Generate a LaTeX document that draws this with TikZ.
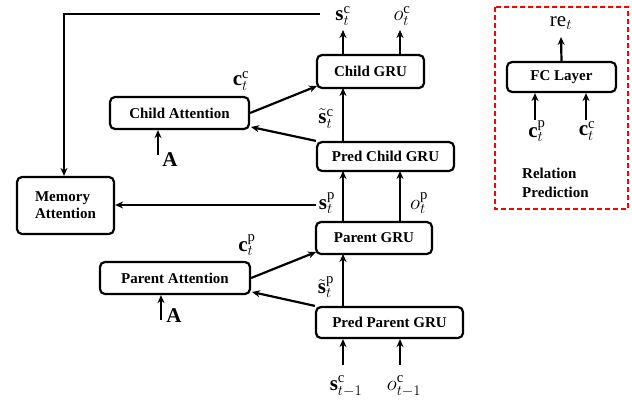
\RequirePackage{fix-cm}
\documentclass[tikz,border=0pt]{standalone}
\usepackage{fontspec}
\setmainfont{Liberation Serif}
\usetikzlibrary{arrows.meta}
\begin{document}
\begin{tikzpicture}[x=1pt,y=-1pt,
  box/.style={draw,line width=2.2pt,rounded corners=5pt,inner sep=0pt,
    font=\bfseries\fontsize{15}{17}\selectfont,align=center},
  lab/.style={inner sep=0pt,font=\fontsize{21}{24}\selectfont},
  arr/.style={line width=2.2pt,-{Stealth[length=8pt,width=7pt]}},
  ln/.style={line width=2.2pt}]
\useasboundingbox (0,0) rectangle (632,402);
% boxes
\node[box,minimum width=107pt,minimum height=33pt] (cgru) at (370.5,71.5) {Child GRU};
\node[box,minimum width=137pt,minimum height=29pt] (pcgru) at (385.5,156.5) {Pred Child GRU};
\node[box,minimum width=116pt,minimum height=32pt] (pgru) at (374,238) {Parent GRU};
\node[box,minimum width=147pt,minimum height=31pt] (ppgru) at (389.5,322.5) {Pred Parent GRU};
\node[box,minimum width=139pt,minimum height=32pt] (catt) at (179.5,113) {Child Attention};
\node[box,minimum width=150pt,minimum height=32pt] (patt) at (175,278) {Parent Attention};
\node[box,minimum width=97pt,minimum height=57pt,align=left] (matt) at (65.5,205.5) {Memory\\Attention};
\node[box,minimum width=109pt,minimum height=30pt] (fc) at (561.5,77) {FC Layer};
\draw[red,line width=2.2pt,dash pattern=on 5pt off 3pt] (495,7) rectangle (628,209);
\node[inner sep=0pt,font=\bfseries\fontsize{15}{19}\selectfont,align=left,anchor=west] (rp) at (522,182.5) {Relation\\Prediction};
% labels
\node[lab] (sc) at (343,16) {$\mathbf{s}_t^{\mathrm{c}}$};
\node[lab] (oc) at (402,16) {$o_t^{\mathrm{c}}$};
\node[lab] (re) at (561,23) {$\mathrm{re}_t$};
\node[lab] (fcp) at (537,131) {$\mathbf{c}_t^{\mathrm{p}}$};
\node[lab] (fcc) at (587,131) {$\mathbf{c}_t^{\mathrm{c}}$};
\node[lab] (ccl) at (241,81) {$\mathbf{c}_t^{\mathrm{c}}$};
\node[lab] (cpl) at (247,245) {$\mathbf{c}_t^{\mathrm{p}}$};
\node[lab] (tsc) at (326,119) {$\tilde{\mathbf{s}}_t^{\mathrm{c}}$};
\node[lab] (tsp) at (326,287) {$\tilde{\mathbf{s}}_t^{\mathrm{p}}$};
\node[lab] (sp) at (327,203) {$\mathbf{s}_t^{\mathrm{p}}$};
\node[lab] (op) at (419,203) {$o_t^{\mathrm{p}}$};
\node[lab] (a1) at (170,160) {$\mathbf{A}$};
\node[lab] (a2) at (174,316) {$\mathbf{A}$};
\node[lab] (sc1) at (346,386) {$\mathbf{s}_{t-1}^{\mathrm{c}}$};
\node[lab] (oc1) at (404,386) {$o_{t-1}^{\mathrm{c}}$};
% coordinates
\coordinate (topr) at (320,14);
\coordinate (topl) at (64,14);
\coordinate (a1s) at (158,155);
\coordinate (a2s) at (161,320);
\coordinate (b1) at (343,365);
\coordinate (b2) at (400,365);
\coordinate (fc1) at (535,120);
\coordinate (fc2) at (586,120);
% arrows
\draw[arr] (343,55) -- (343,30);
\draw[arr] (400,55) -- (400,30);
\draw[arr] (343,142) -- (343,88);
\draw[arr] (343,222) -- (343,171);
\draw[arr] (400,222) -- (400,171);
\draw[arr] (343,307) -- (343,254);
\draw[arr] (b1) -- (b1|-ppgru.south);
\draw[arr] (b2) -- (b2|-ppgru.south);
\draw[arr] (topr) -- (topl) -- (topl|-matt.north);
\draw[arr] (316,205) -- (matt.east|-0,205);
\draw[arr] (catt.east) -- (317,86);
\draw[arr] (pcgru.north west) -- (251,127);
\draw[arr] (patt.east) -- (316,252);
\draw[arr] (ppgru.north west) -- (252,292);
\draw[arr] (a1s) -- (a1s|-catt.south);
\draw[arr] (a2s) -- (a2s|-patt.south);
\draw[arr] (fc1) -- (fc1|-fc.south);
\draw[arr] (fc2) -- (fc2|-fc.south);
\draw[arr] (fc.north) -- (561,37);
\end{tikzpicture}
\end{document}
